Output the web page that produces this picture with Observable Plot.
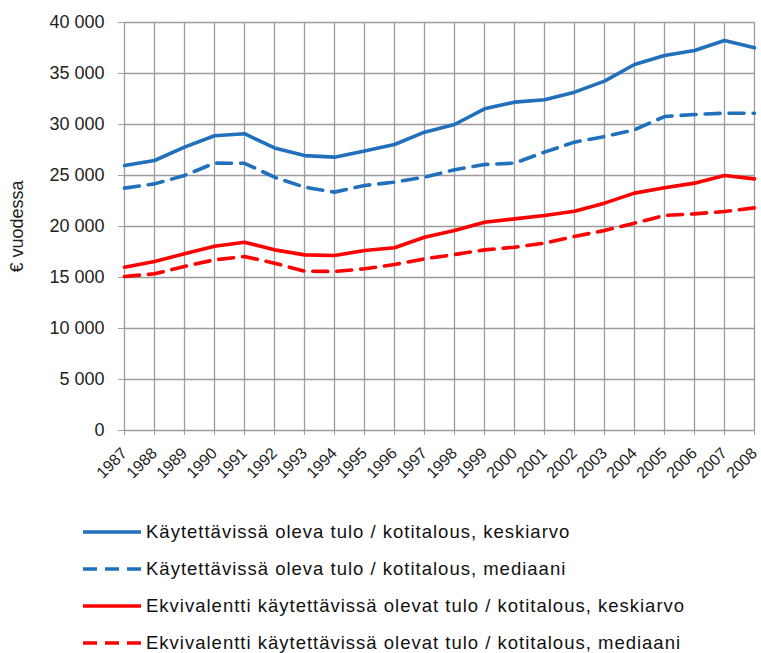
<!DOCTYPE html>
<html><head><meta charset="utf-8">
<script src="https://cdn.jsdelivr.net/npm/d3@7"></script>
<script src="https://cdn.jsdelivr.net/npm/@observablehq/plot@0.6"></script>
<style>
body{margin:0;background:#fff;}
#legend{font-family:"Liberation Sans",Arial,sans-serif;font-size:18.5px;letter-spacing:1px;color:#111;padding-top:3px}
.row{display:flex;align-items:center;height:37px;padding-left:83px}
.row svg{margin-right:5px;flex:none}
</style></head><body>
<div id="chart"></div><div id="legend"></div>
<script>
const years = [1987,1988,1989,1990,1991,1992,1993,1994,1995,1996,1997,1998,1999,2000,2001,2002,2003,2004,2005,2006,2007,2008];
const yTicks = [0,5000,10000,15000,20000,25000,30000,35000,40000];
const seriesNames = [
  "Käytettävissä oleva tulo / kotitalous, keskiarvo",
  "Käytettävissä oleva tulo / kotitalous, mediaani",
  "Ekvivalentti käytettävissä olevat tulo / kotitalous, keskiarvo",
  "Ekvivalentti käytettävissä olevat tulo / kotitalous, mediaani"
];
const hhMean = [25980,26470,27780,28900,29100,27700,26950,26800,27400,28040,29250,30000,31540,32190,32420,33170,34250,35880,36760,37250,38230,37520];
const hhMedian = [23760,24180,25000,26210,26200,24830,23860,23370,24020,24350,24840,25560,26080,26210,27290,28270,28820,29480,30780,30980,31110,31110];
const eqMean = [16010,16570,17320,18070,18460,17710,17220,17160,17650,17910,18950,19610,20420,20750,21080,21500,22290,23270,23790,24250,25000,24670];
const eqMedian = [15100,15360,16080,16730,17060,16400,15620,15590,15850,16270,16830,17250,17710,17970,18360,19020,19610,20330,21080,21240,21470,21830];
const colors = ["#2170bc","#2170bc","#ff0000","#ff0000"];
const dashes = [null,"15,9",null,"15,9"];

const allValues = [hhMean,hhMedian,eqMean,eqMedian];
const tables = allValues.map((vals,i)=>years.map((y,j)=>({year:y,value:vals[j],series:seriesNames[i]})));
const fmt = d => d3.format(",")(d).replace(/,/g," ");

const chart = Plot.plot({
  width:761, height:510,
  marginLeft:124, marginRight:7, marginTop:22, marginBottom:80,
  style:{fontFamily:"'Liberation Sans', Arial, sans-serif", color:"#222", background:"#fff"},
  x:{domain:[1987,2008]},
  y:{domain:[0,40000]},
  marks:[
    Plot.ruleY(yTicks,{stroke:"#9c9c9c",strokeWidth:1.3}),
    Plot.ruleX(years,{stroke:"#9c9c9c",strokeWidth:1.3}),
    Plot.axisY({ticks:yTicks,tickSize:6,tickPadding:14,tickFormat:fmt,fontSize:18,stroke:"#9c9c9c",
      label:"€ vuodessa",labelAnchor:"center",labelOffset:114,labelArrow:"none"}),
    Plot.axisX({ticks:years,tickSize:5,tickPadding:15,tickRotate:-45,tickFormat:d=>String(d),fontSize:16,stroke:"#9c9c9c",label:null}),
    ...tables.map((t,i)=>Plot.line(t,{x:"year",y:"value",stroke:colors[i],strokeWidth:3.6,
      strokeDasharray:dashes[i]||undefined,strokeLinejoin:"round"}))
  ]
});
document.getElementById("chart").appendChild(chart);

const legend = document.getElementById("legend");
seriesNames.forEach((name,i)=>{
  const row = document.createElement("div");
  row.className="row";
  const dash = dashes[i] ? ' stroke-dasharray="14,8"' : '';
  row.innerHTML = `<svg width="58" height="6"><line x1="0" x2="58" y1="3" y2="3" stroke="${colors[i]}" stroke-width="3.5"${dash}/></svg><span>${name}</span>`;
  legend.appendChild(row);
});
</script>
</body></html>
